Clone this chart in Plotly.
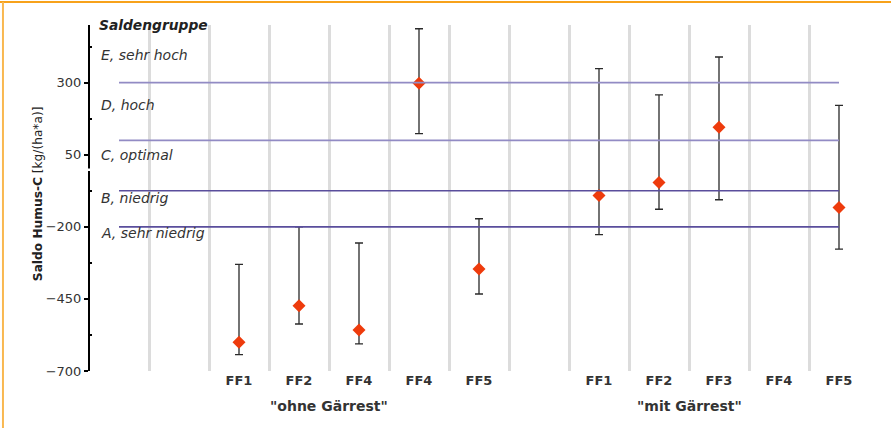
import plotly.graph_objects as go

# ---------------- data ----------------
groups = ['"ohne Gärrest"', '"mit Gärrest"']
group_categories = [["FF1", "FF2", "FF4", "FF4", "FF5"],
                    ["FF1", "FF2", "FF3", "FF4", "FF5"]]
values = [[-600, -474, -558, 298, -346],
          [-91, -46, 145, None, -133]]
upper = [[-330, -200, -256, 487, -172],
         [349, 258, 389, None, 221]]
lower = [[-643, -537, -606, 123, -433],
         [-227, -139, -106, None, -277]]

class_bounds = [-200, -75, 100, 300]
class_labels = ["A, sehr niedrig", "B, niedrig", "C, optimal", "D, hoch", "E, sehr hoch"]
class_label_y = [-220, -99, 50, 224, 397]

y_ticks = [-700, -450, -200, 50, 300]
y_minor = [-575, -325, -75, 175, 425]

# ---------------- layout of slots ----------------
lead_slots = 2
gap_slots = 1
xs, labels, ys, ep, em, grp_centers = [], [], [], [], [], []
slot = lead_slots
for g, cats in enumerate(group_categories):
    start = slot
    for i, c in enumerate(cats):
        xs.append(slot)
        labels.append(c)
        v = values[g][i]
        ys.append(v)
        ep.append(None if v is None else upper[g][i] - v)
        em.append(None if v is None else v - lower[g][i])
        slot += 1
    grp_centers.append(start + 1.5)
    slot += gap_slots
n_slots = slot - gap_slots

FONT = "DejaVu Sans"
TXT = "#333333"

fig = go.Figure()
fig.add_trace(go.Scatter(
    x=xs, y=ys, mode="markers",
    marker=dict(symbol="diamond", size=10, color="#ee3b0c"),
    error_y=dict(type="data", symmetric=False, array=ep, arrayminus=em,
                 color="#2a2a2a", thickness=1.3, width=4),
    showlegend=False, hoverinfo="skip"))

shapes = []
# class threshold lines
for i, b in enumerate(class_bounds):
    col = "#5a4e9c" if i < 2 else "#928bc4"
    shapes.append(dict(type="line", xref="x", yref="y", x0=0, x1=n_slots - 1,
                       y0=b, y1=b, line=dict(color=col, width=1.6), layer="above"))
# white break across gridlines near 0
shapes.append(dict(type="line", xref="paper", yref="y", x0=0, x1=1, y0=-2, y1=-2,
                   line=dict(color="white", width=2), layer="between"))
# y-axis line with small break
shapes.append(dict(type="line", xref="paper", yref="y", x0=0, x1=0, y0=-700, y1=-6,
                   line=dict(color="black", width=2)))
shapes.append(dict(type="line", xref="paper", yref="y", x0=0, x1=0, y0=2, y1=500,
                   line=dict(color="black", width=2)))
# orange frame
shapes.append(dict(type="line", xref="paper", yref="paper", x0=-0.12, x1=1.03,
                   y0=1.0665, y1=1.0665, line=dict(color="#f7a21b", width=2)))
shapes.append(dict(type="line", xref="paper", yref="paper", x0=-0.1103, x1=-0.1103,
                   y0=1.0665, y1=-0.17, line=dict(color="#f9b850", width=2)))

annotations = []
for lab, yy in zip(class_labels, class_label_y):
    annotations.append(dict(xref="paper", yref="y", x=0.0125, y=yy, text="<i>" + lab + "</i>",
                            showarrow=False, xanchor="left", yanchor="middle",
                            font=dict(family=FONT, size=14, color=TXT)))
annotations.append(dict(xref="paper", yref="y", x=0.0105, y=500,
                        text="<b><i>Saldengruppe</i></b>", showarrow=False,
                        xanchor="left", yanchor="middle",
                        font=dict(family=FONT, size=13.8, color="#222222")))
for g, cx in zip(groups, grp_centers):
    annotations.append(dict(xref="x", yref="paper", x=cx, y=-0.101, text="<b>" + g + "</b>",
                            showarrow=False, xanchor="center", yanchor="middle",
                            font=dict(family=FONT, size=14, color=TXT)))
annotations.append(dict(xref="paper", yref="paper", x=-0.0654, y=0.514,
                        text="<b>Saldo Humus-C</b> [kg/(ha*a)]", textangle=-90,
                        showarrow=False, xanchor="center", yanchor="middle",
                        font=dict(family=FONT, size=12.2, color="#222222")))

fig.update_layout(
    width=891, height=428,
    margin=dict(l=89, r=22, t=25, b=57),
    paper_bgcolor="white", plot_bgcolor="white",
    shapes=shapes, annotations=annotations,
    font=dict(family=FONT, color=TXT),
    xaxis=dict(range=[-0.5, n_slots - 0.5], tickmode="array", tickvals=xs,
               ticktext=["<b>" + l + "</b>" for l in labels],
               tickfont=dict(family=FONT, size=13, color=TXT),
               showgrid=False, zeroline=False, showline=False, ticks="",
               ticklabelstandoff=0,
               minor=dict(tickmode="array",
                          tickvals=[k + 0.5 for k in range(n_slots)],
                          showgrid=True, gridcolor="#dcdcdc", gridwidth=2.6, ticks="")),
    yaxis=dict(range=[-700, 500], tickmode="array", tickvals=y_ticks,
               ticks="outside", ticklen=4, tickwidth=2, tickcolor="black",
               tickfont=dict(family=FONT, size=13, color=TXT),
               showgrid=False, zeroline=False, showline=False,
               minor=dict(tickmode="array", tickvals=y_minor, ticks="inside",
                          ticklen=3, tickwidth=1.5, tickcolor="black", showgrid=False)),
)

fig.write_html("out.html", config={"displayModeBar": False},
               post_script="document.body.style.margin='0';document.body.style.overflow='hidden';")
